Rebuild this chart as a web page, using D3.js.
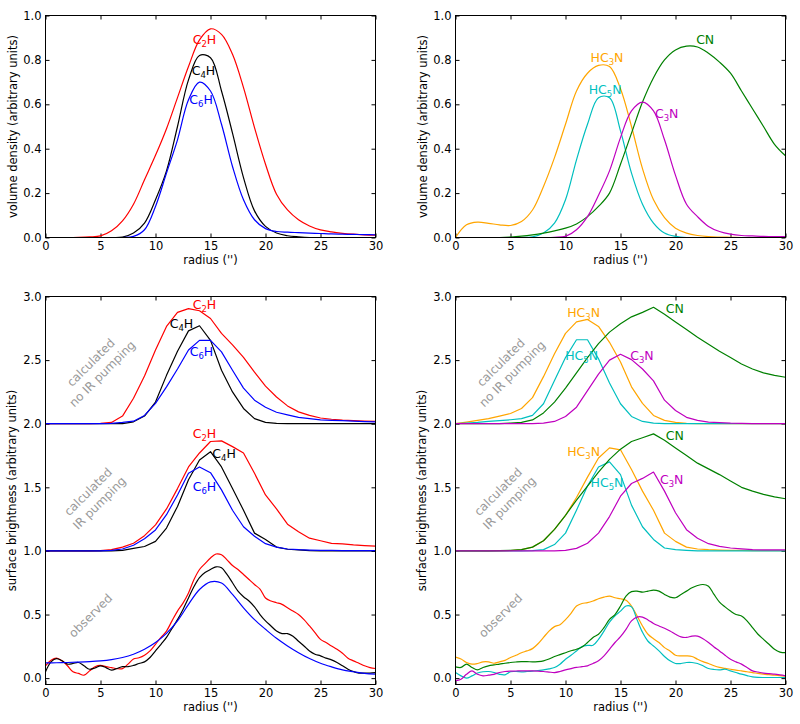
<!DOCTYPE html>
<html>
<head>
<meta charset="utf-8">
<script src="https://cdnjs.cloudflare.com/ajax/libs/d3/7.8.5/d3.min.js"></script>
<style>
	body { margin: 0; background: #fff; }
	text { font-family: "DejaVu Sans", sans-serif; }
</style>
</head>
<body>
<div id="chart"></div>
<script>
// radius grids (arcsec)
const rCalc = [0, 1, 2, 3, 4, 5, 6, 7, 8, 9, 10, 11, 12, 13, 14, 15, 16, 17, 18, 19, 20, 21, 22, 23, 24, 25, 26, 27, 28, 29, 30]
const rObs = [0, 0.5, 1, 1.5, 2, 2.5, 3, 3.5, 4, 4.5, 5, 5.5, 6, 6.5, 7, 7.5, 8, 8.5, 9, 9.5, 10, 10.5, 11, 11.5, 12, 12.5, 13, 13.5, 14, 14.5, 15,
	15.5, 16, 16.5, 17, 17.5, 18, 18.5, 19, 19.5, 20, 20.5, 21, 21.5, 22, 22.5, 23, 23.5, 24, 24.5, 25, 25.5, 26, 26.5, 27, 27.5, 28, 28.5, 29, 29.5, 30]

// volume density, top left
const volC2H = [0, 0, 0, 0.001, 0.003, 0.007, 0.03, 0.075, 0.15, 0.26, 0.37, 0.49, 0.63, 0.77, 0.89, 0.94, 0.915, 0.825, 0.675, 0.495, 0.33, 0.195, 0.124, 0.08, 0.052, 0.034, 0.025, 0.019, 0.015, 0.012, 0.011]
const volC4H = [0, 0, 0, 0, 0, 0, 0, 0.002, 0.02, 0.065, 0.17, 0.30, 0.50, 0.71, 0.82, 0.81, 0.66, 0.47, 0.27, 0.12, 0.05, 0.02, 0.008, 0.003, 0, 0, 0, 0, 0, 0, 0]
const volC6H = [0, 0, 0, 0, 0, 0, 0, 0, 0.005, 0.035, 0.14, 0.29, 0.44, 0.62, 0.70, 0.66, 0.51, 0.32, 0.17, 0.08, 0.04, 0.027, 0.024, 0.022, 0.02, 0.018, 0.016, 0.015, 0.014, 0.013, 0.012]

// volume density, top right
const volHC3N = [0, 0.057, 0.069, 0.064, 0.057, 0.054, 0.072, 0.124, 0.23, 0.36, 0.51, 0.66, 0.74, 0.775, 0.77, 0.67, 0.50, 0.31, 0.17, 0.09, 0.042, 0.02, 0.009, 0.004, 0.002, 0.001, 0, 0, 0, 0, 0]
const volHC5N = [0, 0, 0, 0, 0, 0, 0, 0.003, 0.02, 0.065, 0.17, 0.35, 0.51, 0.63, 0.63, 0.48, 0.29, 0.15, 0.065, 0.02, 0.005, 0, 0, 0, 0, 0, 0, 0, 0, 0, 0]
const volCN = [0, 0, 0, 0, 0, 0.002, 0.006, 0.012, 0.02, 0.03, 0.042, 0.061, 0.094, 0.14, 0.20, 0.33, 0.47, 0.61, 0.72, 0.80, 0.845, 0.862, 0.858, 0.83, 0.79, 0.74, 0.66, 0.58, 0.50, 0.42, 0.368]
const volC3N = [0, 0, 0, 0, 0, 0, 0, 0, 0, 0.001, 0.005, 0.035, 0.094, 0.19, 0.30, 0.45, 0.57, 0.61, 0.57, 0.44, 0.28, 0.15, 0.094, 0.05, 0.027, 0.015, 0.009, 0.007, 0.005, 0.004, 0.004]

// surface brightness, bottom left (calculated profiles are plotted offset by 2 and 1)
const noIrC2H = [2, 2, 2, 2, 2.001, 2.003, 2.01, 2.06, 2.2, 2.375, 2.58, 2.765, 2.875, 2.905, 2.888, 2.827, 2.71, 2.62, 2.522, 2.405, 2.295, 2.21, 2.14, 2.093, 2.065, 2.045, 2.035, 2.028, 2.024, 2.021, 2.018]
const noIrC4H = [2, 2, 2, 2, 2, 2, 2, 2, 2.015, 2.06, 2.17, 2.38, 2.57, 2.73, 2.77, 2.655, 2.42, 2.25, 2.12, 2.04, 2.01, 2.002, 2, 2, 2, 2, 2, 2, 2, 2, 2]
const noIrC6H = [2, 2, 2, 2, 2, 2, 2.003, 2.01, 2.02, 2.065, 2.16, 2.29, 2.43, 2.58, 2.655, 2.655, 2.565, 2.42, 2.28, 2.185, 2.13, 2.09, 2.07, 2.05, 2.04, 2.03, 2.027, 2.024, 2.02, 2.017, 2.015]
const irC2H = [1, 1, 1, 1, 1.001, 1.003, 1.01, 1.03, 1.06, 1.12, 1.205, 1.33, 1.49, 1.66, 1.77, 1.86, 1.865, 1.82, 1.77, 1.61, 1.44, 1.33, 1.21, 1.15, 1.10, 1.08, 1.06, 1.055, 1.047, 1.042, 1.037]
const irC4H = [1, 1, 1, 1, 1, 1, 1, 1.005, 1.02, 1.035, 1.075, 1.18, 1.35, 1.56, 1.715, 1.78, 1.66, 1.49, 1.32, 1.14, 1.09, 1.03, 1.013, 1.008, 1.003, 1, 1, 1, 1, 1, 1]
const irC6H = [1, 1, 1, 1, 1, 1, 1.005, 1.015, 1.045, 1.095, 1.165, 1.285, 1.44, 1.61, 1.66, 1.615, 1.48, 1.32, 1.19, 1.115, 1.057, 1.03, 1.015, 1.01, 1.007, 1.005, 1.004, 1.003, 1.003, 1.003, 1.003]
const obsC2H = [0.097, 0.14, 0.157, 0.136, 0.097, 0.05, 0.037, 0.023, 0.057, 0.09, 0.10, 0.09, 0.083, 0.075, 0.075, 0.11, 0.15, 0.16, 0.18, 0.214, 0.266, 0.32, 0.37, 0.45, 0.527, 0.59, 0.67, 0.775, 0.854, 0.90, 0.945,
	0.976, 0.97, 0.93, 0.885, 0.854, 0.815, 0.775, 0.736, 0.70, 0.63, 0.606, 0.593, 0.58, 0.553, 0.527, 0.50, 0.46, 0.41, 0.358, 0.305, 0.28, 0.253, 0.227, 0.196, 0.157, 0.136, 0.117, 0.097, 0.083, 0.076]
const obsC4H = [0.05, 0.128, 0.154, 0.136, 0.11, 0.115, 0.123, 0.097, 0.07, 0.08, 0.097, 0.083, 0.063, 0.076, 0.09, 0.09, 0.10, 0.115, 0.128, 0.162, 0.214, 0.266, 0.32, 0.39, 0.46, 0.54, 0.63, 0.72, 0.79, 0.83, 0.854,
	0.875, 0.867, 0.815, 0.75, 0.684, 0.64, 0.606, 0.56, 0.50, 0.45, 0.41, 0.37, 0.35, 0.35, 0.33, 0.29, 0.253, 0.214, 0.188, 0.175, 0.157, 0.144, 0.123, 0.097, 0.07, 0.052, 0.04, 0.04, 0.04, 0.044]
const obsC6H = [0.12, 0.121, 0.123, 0.126, 0.13, 0.136, 0.146, 0.162, 0.188, 0.227, 0.28, 0.352, 0.45, 0.58, 0.697, 0.757, 0.748, 0.658, 0.553, 0.46, 0.384, 0.313, 0.253, 0.20, 0.154, 0.117, 0.089, 0.065, 0.05, 0.037, 0.031]

// surface brightness, bottom right
const noIrHC3N = [2, 2.013, 2.026, 2.04, 2.06, 2.08, 2.12, 2.205, 2.37, 2.55, 2.71, 2.80, 2.82, 2.765, 2.64, 2.485, 2.29, 2.16, 2.065, 2.026, 2.01, 2.003, 2, 2, 2, 2, 2, 2, 2, 2, 2]
const noIrHC5N = [2, 2.005, 2.01, 2.018, 2.025, 2.031, 2.04, 2.065, 2.157, 2.34, 2.52, 2.66, 2.66, 2.51, 2.32, 2.157, 2.057, 2.018, 2.005, 2, 2, 2, 2, 2, 2, 2, 2, 2, 2, 2, 2]
const noIrCN = [2, 2, 2, 2, 2.001, 2.005, 2.01, 2.03, 2.085, 2.17, 2.28, 2.40, 2.52, 2.63, 2.72, 2.785, 2.84, 2.875, 2.915, 2.86, 2.80, 2.74, 2.68, 2.625, 2.57, 2.52, 2.47, 2.43, 2.40, 2.38, 2.365]
const noIrC3N = [2, 2, 2, 2, 2, 2, 2, 2, 2.005, 2.018, 2.057, 2.13, 2.26, 2.39, 2.50, 2.546, 2.504, 2.43, 2.337, 2.185, 2.104, 2.05, 2.026, 2.013, 2.008, 2.004, 2.002, 2, 2, 2, 2]
const irHC3N = [1, 1, 1, 1, 1.001, 1.003, 1.01, 1.03, 1.08, 1.17, 1.28, 1.42, 1.58, 1.73, 1.81, 1.795, 1.64, 1.47, 1.32, 1.14, 1.075, 1.03, 1.015, 1.01, 1.007, 1.005, 1.004, 1.003, 1.003, 1.003, 1.003]
const irHC5N = [1, 1, 1, 1, 1, 1, 1, 1.003, 1.01, 1.05, 1.14, 1.32, 1.51, 1.66, 1.70, 1.60, 1.36, 1.19, 1.09, 1.023, 1.01, 1.005, 1, 1, 1, 1, 1, 1, 1, 1, 1]
const irCN = [1, 1, 1, 1, 1.002, 1.005, 1.01, 1.03, 1.08, 1.17, 1.28, 1.40, 1.51, 1.62, 1.72, 1.80, 1.86, 1.89, 1.92, 1.87, 1.81, 1.75, 1.69, 1.645, 1.60, 1.55, 1.50, 1.47, 1.445, 1.425, 1.41]
const irC3N = [1, 1, 1, 1, 1, 1, 1, 1, 1, 1, 1.005, 1.02, 1.06, 1.14, 1.27, 1.43, 1.53, 1.57, 1.62, 1.47, 1.30, 1.167, 1.10, 1.057, 1.036, 1.023, 1.016, 1.01, 1.008, 1.008, 1.008]
const obsHC3N = [0.165, 0.15, 0.123, 0.11, 0.115, 0.128, 0.128, 0.117, 0.128, 0.14, 0.162, 0.18, 0.20, 0.214, 0.232, 0.27, 0.32, 0.37, 0.405, 0.42, 0.46, 0.51, 0.567, 0.587, 0.593, 0.606, 0.624, 0.637, 0.645, 0.632, 0.624,
	0.613, 0.567, 0.49, 0.41, 0.345, 0.31, 0.28, 0.24, 0.214, 0.18, 0.175, 0.175, 0.17, 0.149, 0.13, 0.115, 0.097, 0.084, 0.077, 0.07, 0.063, 0.057, 0.05, 0.044, 0.037, 0.031, 0.027, 0.023, 0.02, 0.016]
const obsHC5N = [0.044, 0.018, 0.0, 0.018, 0.04, 0.05, 0.052, 0.044, 0.03, 0.026, 0.05, 0.052, 0.05, 0.052, 0.055, 0.06, 0.065, 0.073, 0.084, 0.11, 0.149, 0.18, 0.214, 0.248, 0.258, 0.258, 0.305, 0.37, 0.44, 0.49, 0.527,
	0.567, 0.56, 0.46, 0.36, 0.29, 0.253, 0.214, 0.17, 0.136, 0.115, 0.115, 0.123, 0.123, 0.115, 0.097, 0.076, 0.068, 0.065, 0.07, 0.057, 0.044, 0.031, 0.02, 0.01, 0.006, 0.005, 0.005, 0.005, 0.005, 0.005]
const obsCN = [0.089, 0.084, 0.11, 0.084, 0.065, 0.084, 0.097, 0.104, 0.11, 0.117, 0.123, 0.127, 0.13, 0.13, 0.128, 0.13, 0.136, 0.15, 0.17, 0.185, 0.20, 0.215, 0.227, 0.245, 0.28, 0.32, 0.345, 0.397, 0.462, 0.50, 0.567,
	0.645, 0.68, 0.684, 0.676, 0.684, 0.692, 0.684, 0.658, 0.637, 0.632, 0.658, 0.684, 0.71, 0.728, 0.736, 0.723, 0.658, 0.598, 0.56, 0.527, 0.50, 0.488, 0.45, 0.397, 0.345, 0.305, 0.266, 0.227, 0.205, 0.20]
const obsC3N = [-0.02, -0.008, 0.03, 0.057, 0.03, 0.018, 0.023, 0.03, 0.044, 0.052, 0.055, 0.056, 0.057, 0.057, 0.057, 0.055, 0.052, 0.048, 0.044, 0.052, 0.065, 0.075, 0.084, 0.09, 0.097, 0.115, 0.136, 0.175, 0.227, 0.28, 0.326,
	0.384, 0.45, 0.48, 0.48, 0.457, 0.43, 0.41, 0.392, 0.37, 0.345, 0.324, 0.32, 0.33, 0.33, 0.31, 0.28, 0.245, 0.214, 0.18, 0.149, 0.128, 0.11, 0.084, 0.057, 0.048, 0.04, 0.035, 0.031, 0.025, 0.018]

// ticks
const xTicks = [0, 5, 10, 15, 20, 25, 30]
const volTicks = [0, 0.2, 0.4, 0.6, 0.8, 1.0]
const sbTicks = [0, 0.5, 1.0, 1.5, 2.0, 2.5, 3.0]

const RED = '#ff0000', BLACK = '#000000', BLUE = '#0000ff'
const ORANGE = '#ffa500', CYAN = '#00bfbf', GREEN = '#008000', MAGENTA = '#bf00bf'

const svg = d3.select('#chart')
	.append('svg')
	.attr('width', 800)
	.attr('height', 724)

function makePanel(left, top, right, bottom, yDomain, yTicks, ylabel, ylabelX) {
	const x = d3.scaleLinear().domain([0, 30]).range([left, right])
	const y = d3.scaleLinear().domain(yDomain).range([bottom, top])
	const g = svg.append('g')

	g.append('g')
		.attr('transform', `translate(0,${bottom})`)
		.call(d3.axisBottom(x).tickValues(xTicks).tickSizeInner(-4).tickSizeOuter(0).tickPadding(4.5))
	g.append('g')
		.attr('transform', `translate(0,${top})`)
		.call(d3.axisTop(x).tickValues(xTicks).tickSizeInner(-4).tickSizeOuter(0).tickFormat(''))
	g.append('g')
		.attr('transform', `translate(${left},0)`)
		.call(d3.axisLeft(y).tickValues(yTicks).tickSizeInner(-4).tickSizeOuter(0).tickPadding(4).tickFormat(d3.format('.1f')))
	g.append('g')
		.attr('transform', `translate(${right},0)`)
		.call(d3.axisRight(y).tickValues(yTicks).tickSizeInner(-4).tickSizeOuter(0).tickFormat(''))

	g.selectAll('.domain').remove()
	g.selectAll('.tick text').attr('font-size', 11.5).attr('font-family', '"DejaVu Sans", sans-serif')
	g.selectAll('.tick line').attr('stroke', '#000')

	svg.append('text')
		.attr('x', (left + right) / 2)
		.attr('y', bottom + 26)
		.attr('text-anchor', 'middle')
		.attr('font-size', 11.5)
		.text("radius ('')")

	svg.append('text')
		.attr('transform', `translate(${ylabelX},${(top + bottom) / 2}) rotate(-90)`)
		.attr('text-anchor', 'middle')
		.attr('font-size', 11.5)
		.text(ylabel)

	const clipId = 'clip' + Math.round(left) + '_' + Math.round(top)
	svg.append('clipPath').attr('id', clipId)
		.append('rect')
		.attr('x', left).attr('y', top)
		.attr('width', right - left).attr('height', bottom - top)
	const plot = svg.append('g').attr('clip-path', `url(#${clipId})`)

	// frame drawn last
	const frame = () => svg.append('rect')
		.attr('x', left).attr('y', top)
		.attr('width', right - left).attr('height', bottom - top)
		.attr('fill', 'none')
		.attr('stroke', '#000')
		.attr('stroke-width', 1)

	return { x, y, plot, frame }
}

function drawLine(p, xs, ys, color, curve) {
	p.plot.append('path')
		.datum(ys)
		.attr('fill', 'none')
		.attr('stroke', color)
		.attr('stroke-width', 1.2)
		.attr('stroke-linejoin', 'round')
		.attr('d', d3.line()
			.x((d, i) => p.x(xs[i]))
			.y(d => p.y(d))
			.curve(curve))
}

function species(p, name, sub, post, lx, ly, color) {
	const t = svg.append('text')
		.attr('x', p.x(lx))
		.attr('y', p.y(ly) + 4)
		.attr('text-anchor', 'middle')
		.attr('font-size', 12.5)
		.attr('fill', color)
	t.append('tspan').text(name)
	if (sub) {
		t.append('tspan').attr('font-size', 8.5).attr('dy', 3).text(sub)
		t.append('tspan').attr('dy', -3).text(post)
	}
}

function note(p, lines, lx, ly) {
	const t = svg.append('text')
		.attr('transform', `translate(${p.x(lx)},${p.y(ly)}) rotate(-45)`)
		.attr('text-anchor', 'middle')
		.attr('font-size', 12)
		.attr('fill', '#999999')
	lines.forEach((s, i) => {
		t.append('tspan')
			.attr('x', 0)
			.attr('y', (i - (lines.length - 1) / 2) * 16 + 4)
			.text(s)
	})
}

const smooth = d3.curveCatmullRom.alpha(0.5)

// ---- top left
const p1 = makePanel(45.5, 15.5, 375.5, 237.5, [0, 1], volTicks, 'volume density (arbitrary units)', 17)
drawLine(p1, rCalc, volC2H, RED, smooth)
drawLine(p1, rCalc, volC4H, BLACK, smooth)
drawLine(p1, rCalc, volC6H, BLUE, smooth)
p1.frame()
species(p1, 'C', '2', 'H', 14.45, 0.888, RED)
species(p1, 'C', '4', 'H', 14.36, 0.748, BLACK)
species(p1, 'C', '6', 'H', 14.15, 0.618, BLUE)

// ---- top right
const p2 = makePanel(455.5, 15.5, 785.5, 237.5, [0, 1], volTicks, 'volume density (arbitrary units)', 427)
drawLine(p2, rCalc, volHC3N, ORANGE, smooth)
drawLine(p2, rCalc, volHC5N, CYAN, smooth)
drawLine(p2, rCalc, volCN, GREEN, smooth)
drawLine(p2, rCalc, volC3N, MAGENTA, smooth)
p2.frame()
species(p2, 'HC', '3', 'N', 13.77, 0.81, ORANGE)
species(p2, 'CN', '', '', 22.7, 0.888, GREEN)
species(p2, 'HC', '5', 'N', 13.6, 0.666, CYAN)
species(p2, 'C', '3', 'N', 19.2, 0.558, MAGENTA)

// ---- bottom left
const p3 = makePanel(45.5, 296.5, 375.5, 684.5, [-0.05, 3], sbTicks, 'surface brightness (arbitrary units)', 16)
drawLine(p3, rCalc, noIrC2H, RED, d3.curveLinear)
drawLine(p3, rCalc, noIrC4H, BLACK, d3.curveLinear)
drawLine(p3, rCalc, noIrC6H, BLUE, d3.curveLinear)
drawLine(p3, rCalc, irC2H, RED, d3.curveLinear)
drawLine(p3, rCalc, irC4H, BLACK, d3.curveLinear)
drawLine(p3, rCalc, irC6H, BLUE, d3.curveLinear)
drawLine(p3, rObs, obsC2H, RED, smooth)
drawLine(p3, rObs, obsC4H, BLACK, smooth)
drawLine(p3, rCalc, obsC6H, BLUE, smooth)
p3.frame()
species(p3, 'C', '2', 'H', 14.45, 2.935, RED)
species(p3, 'C', '4', 'H', 12.36, 2.786, BLACK)
species(p3, 'C', '6', 'H', 14.18, 2.564, BLUE)
species(p3, 'C', '2', 'H', 14.45, 1.917, RED)
species(p3, 'C', '4', 'H', 16.24, 1.762, BLACK)
species(p3, 'C', '6', 'H', 14.45, 1.506, BLUE)
note(p3, ['calculated', 'no IR pumping'], 4.65, 2.436)
note(p3, ['calculated', 'IR pumping'], 4.4, 1.42)
note(p3, ['observed'], 4.1, 0.49)

// ---- bottom right
const p4 = makePanel(455.5, 296.5, 785.5, 684.5, [-0.05, 3], sbTicks, 'surface brightness (arbitrary units)', 426)
drawLine(p4, rCalc, noIrHC3N, ORANGE, d3.curveLinear)
drawLine(p4, rCalc, noIrHC5N, CYAN, d3.curveLinear)
drawLine(p4, rCalc, noIrCN, GREEN, d3.curveLinear)
drawLine(p4, rCalc, noIrC3N, MAGENTA, d3.curveLinear)
drawLine(p4, rCalc, irHC3N, ORANGE, d3.curveLinear)
drawLine(p4, rCalc, irHC5N, CYAN, d3.curveLinear)
drawLine(p4, rCalc, irCN, GREEN, d3.curveLinear)
drawLine(p4, rCalc, irC3N, MAGENTA, d3.curveLinear)
drawLine(p4, rObs, obsHC3N, ORANGE, smooth)
drawLine(p4, rObs, obsHC5N, CYAN, smooth)
drawLine(p4, rObs, obsCN, GREEN, smooth)
drawLine(p4, rObs, obsC3N, MAGENTA, smooth)
p4.frame()
species(p4, 'HC', '3', 'N', 11.65, 2.87, ORANGE)
species(p4, 'CN', '', '', 19.93, 2.898, GREEN)
species(p4, 'HC', '5', 'N', 11.47, 2.53, CYAN)
species(p4, 'C', '3', 'N', 16.95, 2.53, MAGENTA)
species(p4, 'HC', '3', 'N', 11.65, 1.78, ORANGE)
species(p4, 'CN', '', '', 19.93, 1.903, GREEN)
species(p4, 'HC', '5', 'N', 13.77, 1.533, CYAN)
species(p4, 'C', '3', 'N', 19.65, 1.559, MAGENTA)
note(p4, ['calculated', 'no IR pumping'], 4.65, 2.436)
note(p4, ['calculated', 'IR pumping'], 4.4, 1.42)
note(p4, ['observed'], 4.1, 0.49)
</script>
</body>
</html>
